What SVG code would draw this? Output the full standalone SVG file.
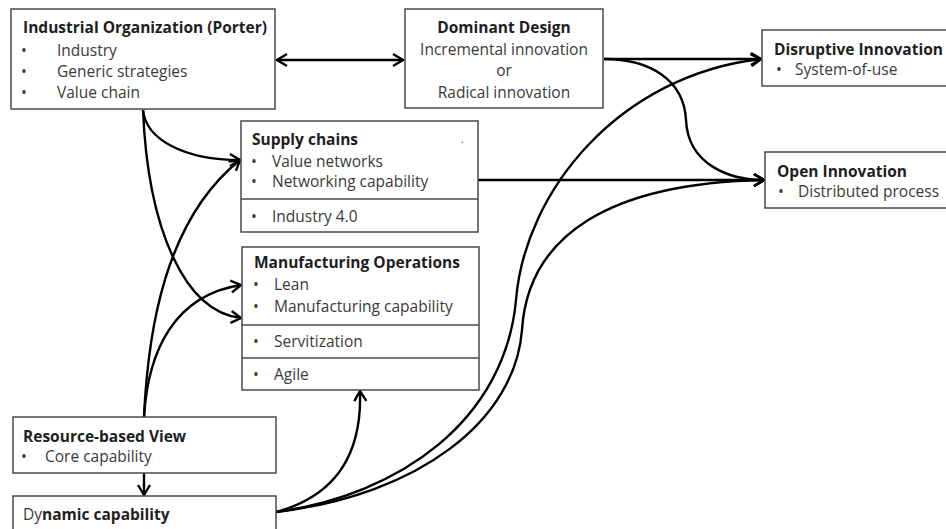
<svg xmlns="http://www.w3.org/2000/svg" width="946" height="529" viewBox="0 0 946 529">
  <defs>
    <style>
      .box { fill: #ffffff; stroke: #4a4a4a; stroke-width: 1.5; }
      .div { stroke: #4a4a4a; stroke-width: 1.5; }
      text { font-family: "Open Sans", "Liberation Sans", sans-serif; font-size: 15.5px; fill: #3a3a3a; }
      .t { font-weight: bold; fill: #1e1e1e; }
      .mid { text-anchor: middle; }
      .edge { fill: none; stroke: #000000; stroke-width: 2.4; }
    </style>
    <marker id="arrow" markerUnits="userSpaceOnUse" orient="auto-start-reverse" refX="0" refY="0" viewBox="-12 -8 14 16" markerWidth="14" markerHeight="16" overflow="visible">
      <path d="M-10,-6 L0,0 L-10,6" fill="none" stroke="#000" stroke-width="2.4" stroke-linejoin="miter"/>
    </marker>
  </defs>

  <rect width="946" height="529" fill="#ffffff"/>

  <!-- connectors -->
  <g id="connectors">
    <line class="edge" x1="277" y1="60" x2="403" y2="60" marker-start="url(#arrow)" marker-end="url(#arrow)"/>
    <path class="edge" d="M143,110 C146,140 185,160 240,160" marker-end="url(#arrow)"/>
    <path class="edge" d="M143,110 C148,230 185,312 241,318" marker-end="url(#arrow)"/>
    <path class="edge" d="M144,417 C148,330 165,220 240,160" marker-end="url(#arrow)"/>
    <path class="edge" d="M144,417 C148,350 175,295 241,285" marker-end="url(#arrow)"/>
    <line class="edge" x1="144" y1="473" x2="144" y2="495" marker-end="url(#arrow)"/>
    <path class="edge" d="M276,512 C340,495 362,450 360,391" marker-end="url(#arrow)"/>
    <path class="edge" d="M276,512 C400,495 505,420 516,300 C525,190 620,75 761,59" marker-end="url(#arrow)"/>
    <path class="edge" d="M276,512 C420,495 515,420 522,330 C528,235 610,183 764,180" marker-end="url(#arrow)"/>
    <line class="edge" x1="604" y1="59" x2="761" y2="59" marker-end="url(#arrow)"/>
    <path class="edge" d="M604,59 C650,59 684,80 686,120 C688,165 730,180 764,180" marker-end="url(#arrow)"/>
    <line class="edge" x1="478" y1="180" x2="764" y2="180" marker-end="url(#arrow)"/>
  </g>

  <!-- Industrial Organization -->
  <g id="industrial-organization">
    <rect class="box" x="11" y="9" width="264" height="100"/>
    <text class="t" x="23" y="33">Industrial Organization (Porter)</text>
    <text x="21" y="56">•</text>
    <text x="57" y="56">Industry</text>
    <text x="21" y="77">•</text>
    <text x="57" y="77">Generic strategies</text>
    <text x="21" y="98">•</text>
    <text x="57" y="98">Value chain</text>
  </g>

  <!-- Dominant Design -->
  <g id="dominant-design">
    <rect class="box" x="405" y="9" width="198" height="99"/>
    <text class="t mid" x="504" y="33">Dominant Design</text>
    <text class="mid" x="504" y="55">Incremental innovation</text>
    <text class="mid" x="504" y="76">or</text>
    <text class="mid" x="504" y="98">Radical innovation</text>
  </g>

  <!-- Disruptive Innovation -->
  <g id="disruptive-innovation">
    <rect class="box" x="762" y="30" width="200" height="56"/>
    <text class="t" x="774" y="55">Disruptive Innovation</text>
    <text x="776" y="75">•</text>
    <text x="795" y="75">System-of-use</text>
  </g>

  <!-- Open Innovation -->
  <g id="open-innovation">
    <rect class="box" x="765" y="152" width="200" height="56"/>
    <text class="t" x="777" y="177">Open Innovation</text>
    <text x="778" y="197">•</text>
    <text x="798" y="197">Distributed process</text>
  </g>

  <!-- Supply chains -->
  <g id="supply-chains">
    <rect class="box" x="241" y="121" width="237" height="111"/>
    <line class="div" x1="241" y1="199" x2="478" y2="199"/>
    <text class="t" x="252" y="145">Supply chains</text>
    <text x="461" y="143" style="font-size:10px">.</text>
    <text x="251" y="167">•</text>
    <text x="272" y="167">Value networks</text>
    <text x="251" y="187">•</text>
    <text x="272" y="187">Networking capability</text>
    <text x="251" y="222">•</text>
    <text x="272" y="222">Industry 4.0</text>
  </g>

  <!-- Manufacturing Operations -->
  <g id="manufacturing-operations">
    <rect class="box" x="242" y="247" width="237" height="143"/>
    <line class="div" x1="242" y1="325" x2="479" y2="325"/>
    <line class="div" x1="242" y1="358" x2="479" y2="358"/>
    <text class="t" x="254" y="268">Manufacturing Operations</text>
    <text x="253" y="290">•</text>
    <text x="274" y="290">Lean</text>
    <text x="253" y="312">•</text>
    <text x="274" y="312">Manufacturing capability</text>
    <text x="253" y="347">•</text>
    <text x="274" y="347">Servitization</text>
    <text x="253" y="380">•</text>
    <text x="274" y="380">Agile</text>
  </g>

  <!-- Resource-based View -->
  <g id="resource-based-view">
    <rect class="box" x="13" y="417" width="263" height="56"/>
    <text class="t" x="23" y="442">Resource-based View</text>
    <text x="21" y="462">•</text>
    <text x="45" y="462">Core capability</text>
  </g>

  <!-- Dynamic capability -->
  <g id="dynamic-capability">
    <rect class="box" x="13" y="496" width="263" height="45"/>
    <text x="23" y="520">Dy<tspan class="t">namic capability</tspan></text>
  </g>
</svg>
